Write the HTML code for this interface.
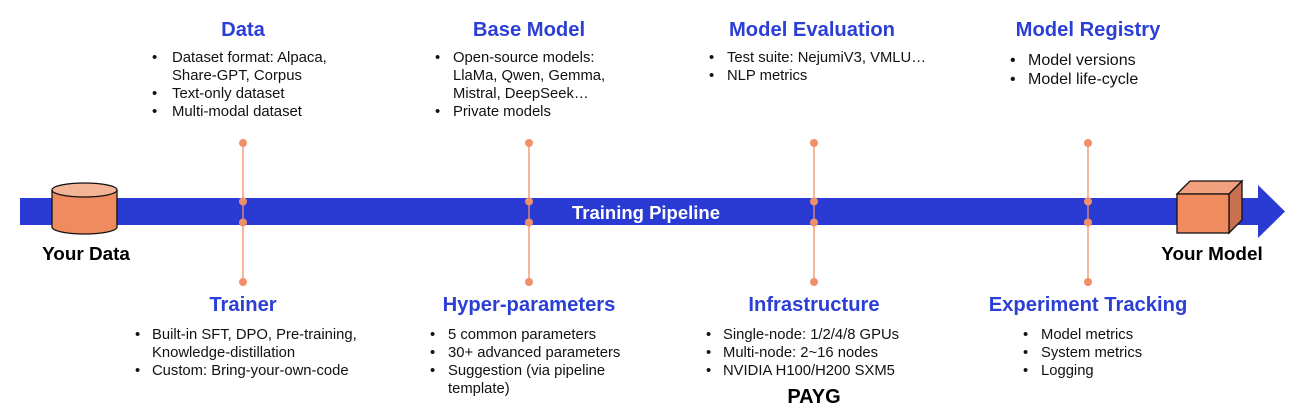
<!DOCTYPE html>
<html><head><meta charset="utf-8"><style>
html,body{margin:0;padding:0;background:#fff;width:1312px;height:418px;overflow:hidden}
svg{display:block}
text{font-family:"Liberation Sans",Arial,sans-serif}
.t{font-size:20.2px;font-weight:bold;fill:#2b3fd4}
.b{font-size:14.8px;fill:#111}
.k{font-size:18.9px;font-weight:bold;fill:#000}
</style></head><body>
<svg width="1312" height="418" viewBox="0 0 1312 418">
<polygon points="20,198 1258,198 1258,185 1285,211.5 1258,238 1258,225 20,225" fill="#2a3bd4"/>
<text x="646" y="219" text-anchor="middle" style="font-size:18.5px;font-weight:bold;fill:#fff">Training Pipeline</text>
<g stroke="#f0906a" stroke-width="1.3">
<line x1="243" y1="143" x2="243" y2="282"/><line x1="529" y1="143" x2="529" y2="282"/>
<line x1="814" y1="143" x2="814" y2="282"/><line x1="1088" y1="143" x2="1088" y2="282"/>
</g>
<g fill="#f0906a">
<circle cx="243" cy="143" r="4"/><circle cx="243" cy="201.5" r="4"/><circle cx="243" cy="222.5" r="4"/><circle cx="243" cy="282" r="4"/>
<circle cx="529" cy="143" r="4"/><circle cx="529" cy="201.5" r="4"/><circle cx="529" cy="222.5" r="4"/><circle cx="529" cy="282" r="4"/>
<circle cx="814" cy="143" r="4"/><circle cx="814" cy="201.5" r="4"/><circle cx="814" cy="222.5" r="4"/><circle cx="814" cy="282" r="4"/>
<circle cx="1088" cy="143" r="4"/><circle cx="1088" cy="201.5" r="4"/><circle cx="1088" cy="222.5" r="4"/><circle cx="1088" cy="282" r="4"/>
</g>
<path d="M52,190 L52,227 A32.5,7 0 0 0 117,227 L117,190" fill="#f08b60" stroke="#111" stroke-width="1.3"/>
<ellipse cx="84.5" cy="190" rx="32.5" ry="7" fill="#f4b596" stroke="#111" stroke-width="1.3"/>
<polygon points="1177,194 1190,181 1242,181 1229,194" fill="#f2a07d" stroke="#111" stroke-width="1.3"/>
<polygon points="1229,194 1242,181 1242,220 1229,233" fill="#c87150" stroke="#111" stroke-width="1.3"/>
<rect x="1177" y="194" width="52" height="39" fill="#f08b60" stroke="#111" stroke-width="1.3"/>
<text x="86" y="260" text-anchor="middle" class="k">Your Data</text>
<text x="1212" y="260" text-anchor="middle" class="k">Your Model</text>
<text x="243" y="36" text-anchor="middle" class="t">Data</text>
<g class="b" style="font-size:14.9px">
<text x="152" y="62">•</text><text x="172" y="62">Dataset format: Alpaca,</text>
<text x="172" y="80">Share-GPT, Corpus</text>
<text x="152" y="98">•</text><text x="172" y="98">Text-only dataset</text>
<text x="152" y="116">•</text><text x="172" y="116">Multi-modal dataset</text>
</g>
<text x="529" y="36" text-anchor="middle" class="t">Base Model</text>
<g class="b">
<text x="435" y="62">•</text><text x="453" y="62">Open-source models:</text>
<text x="453" y="80">LlaMa, Qwen, Gemma,</text>
<text x="453" y="98">Mistral, DeepSeek…</text>
<text x="435" y="116">•</text><text x="453" y="116">Private models</text>
</g>
<text x="812" y="36" text-anchor="middle" class="t">Model Evaluation</text>
<g class="b">
<text x="709" y="62">•</text><text x="727" y="62">Test suite: NejumiV3, VMLU…</text>
<text x="709" y="80">•</text><text x="727" y="80">NLP metrics</text>
</g>
<text x="1088" y="36" text-anchor="middle" class="t">Model Registry</text>
<g class="b" style="font-size:16px">
<text x="1010" y="65">•</text><text x="1028" y="65">Model versions</text>
<text x="1010" y="84">•</text><text x="1028" y="84">Model life-cycle</text>
</g>
<text x="243" y="311" text-anchor="middle" class="t">Trainer</text>
<g class="b">
<text x="135" y="339">•</text><text x="152" y="339">Built-in SFT, DPO, Pre-training,</text>
<text x="152" y="357">Knowledge-distillation</text>
<text x="135" y="375">•</text><text x="152" y="375">Custom: Bring-your-own-code</text>
</g>
<text x="529" y="311" text-anchor="middle" class="t">Hyper-parameters</text>
<g class="b">
<text x="430" y="339">•</text><text x="448" y="339">5 common parameters</text>
<text x="430" y="357">•</text><text x="448" y="357">30+ advanced parameters</text>
<text x="430" y="375">•</text><text x="448" y="375">Suggestion (via pipeline</text>
<text x="448" y="393">template)</text>
</g>
<text x="814" y="311" text-anchor="middle" class="t">Infrastructure</text>
<g class="b">
<text x="706" y="339">•</text><text x="723" y="339">Single-node: 1/2/4/8 GPUs</text>
<text x="706" y="357">•</text><text x="723" y="357">Multi-node: 2~16 nodes</text>
<text x="706" y="375">•</text><text x="723" y="375">NVIDIA H100/H200 SXM5</text>
</g>
<text x="814" y="403" text-anchor="middle" class="k" style="font-size:20px">PAYG</text>
<text x="1088" y="311" text-anchor="middle" class="t">Experiment Tracking</text>
<g class="b">
<text x="1023" y="339">•</text><text x="1041" y="339">Model metrics</text>
<text x="1023" y="357">•</text><text x="1041" y="357">System metrics</text>
<text x="1023" y="375">•</text><text x="1041" y="375">Logging</text>
</g>
</svg>
</body></html>
